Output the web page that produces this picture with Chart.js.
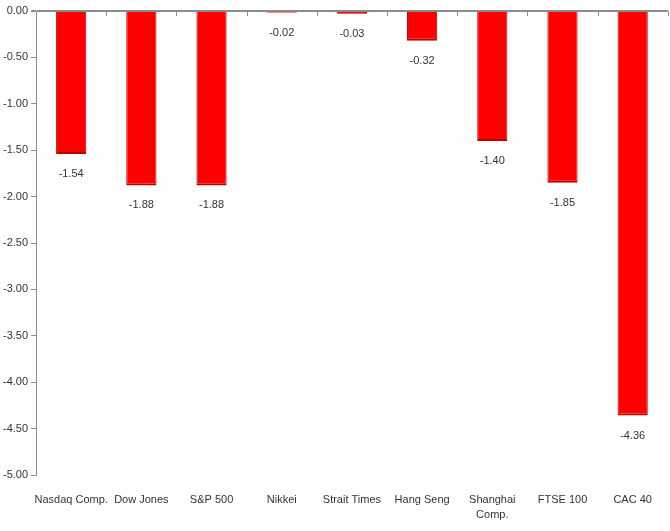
<!DOCTYPE html>
<html>
<head>
<meta charset="utf-8">
<script src="https://cdn.jsdelivr.net/npm/chart.js@4/dist/chart.umd.min.js"></script>
<style>
  html, body { margin: 0; padding: 0; background: #fff; }
  #wrap { width: 670px; height: 531px; }
</style>
</head>
<body>
<div id="wrap"><canvas id="myChart"></canvas></div>
<script>
'use strict';

let categories = ['Nasdaq Comp.', 'Dow Jones', 'S&P 500', 'Nikkei', 'Strait Times', 'Hang Seng', ['Shanghai', 'Comp.'], 'FTSE 100', 'CAC 40'];
let changes = [-1.54, -1.88, -1.88, -0.02, -0.03, -0.32, -1.40, -1.85, -4.36];
let yMin = -5;
let yMax = 0;
let yStep = 0.5;

let fontName = '"Liberation Sans Narrow", "Liberation Sans", Arial, sans-serif';
let fontSize = 11;
let axisGray = '#8c8c8c';

// tick marks under the zero line, between categories
let topTicks = {
    id: 'topTicks',
    afterDraw(chart) {
        let x = chart.scales.x;
        let y = chart.scales.y;
        let ctx = chart.ctx;
        let top = y.getPixelForValue(0);
        ctx.save();
        ctx.strokeStyle = axisGray;
        ctx.lineWidth = 1;
        for (let i = 1; i <= categories.length; i++) {
            let px;
            if (i < categories.length) {
                px = (x.getPixelForValue(i - 1) + x.getPixelForValue(i)) / 2;
            } else {
                px = x.right;
            }
            ctx.beginPath();
            ctx.moveTo(Math.round(px) + 0.5, top);
            ctx.lineTo(Math.round(px) + 0.5, top + 5);
            ctx.stroke();
        }
        ctx.restore();
    }
};

// value labels below each bar
let valueLabels = {
    id: 'valueLabels',
    afterDatasetsDraw(chart) {
        let ctx = chart.ctx;
        let meta = chart.getDatasetMeta(0);
        ctx.save();
        ctx.font = fontSize + 'px ' + fontName;
        ctx.fillStyle = '#333';
        ctx.textAlign = 'center';
        ctx.textBaseline = 'middle';
        meta.data.forEach(function (bar, i) {
            ctx.fillText(changes[i].toFixed(2), bar.x, bar.y + 20);
        });
        ctx.restore();
    }
};

function barFill(context) {
    let chart = context.chart;
    let el = context.element;
    if (!chart.chartArea || !el || el.width === undefined) return '#ff0000';
    let half = el.width / 2;
    let g = chart.ctx.createLinearGradient(el.x - half, 0, el.x + half, 0);
    g.addColorStop(0, '#e60000');
    g.addColorStop(0.12, '#ff0000');
    g.addColorStop(0.88, '#ff0000');
    g.addColorStop(1, '#e00000');
    return g;
}

let ctx = document.getElementById('myChart').getContext('2d');
let chart = new Chart(ctx, {
    type: 'bar',
    data: {
        labels: categories,
        datasets: [{
            data: changes,
            backgroundColor: barFill,
            borderColor: '#c00000',
            borderWidth: { left: 1, right: 1, bottom: 2, top: 0 },
            borderSkipped: 'start',
            barPercentage: 0.43,
            categoryPercentage: 1.0
        }]
    },
    options: {
        responsive: true,
        maintainAspectRatio: false,
        animation: false,
        layout: { padding: { top: 11, right: 1, left: 0, bottom: 0 } },
        plugins: {
            legend: { display: false },
            tooltip: { enabled: false }
        },
        scales: {
            x: {
                position: 'bottom',
                border: { display: false },
                grid: { display: false, drawTicks: false },
                ticks: {
                    color: '#333',
                    font: { family: fontName, size: fontSize, lineHeight: 1.35 },
                    padding: 18,
                    maxRotation: 0,
                    autoSkip: false
                },
                afterFit: function (scale) { scale.height = 56; }
            },
            y: {
                min: yMin,
                max: yMax,
                border: { display: true, color: axisGray, width: 1 },
                grid: {
                    drawOnChartArea: true,
                    color: function (c) { return c.tick && c.tick.value === 0 ? axisGray : 'transparent'; },
                    lineWidth: function (c) { return c.tick && c.tick.value === 0 ? 2 : 1; },
                    tickColor: axisGray,
                    tickLength: 5
                },
                ticks: {
                    stepSize: yStep,
                    color: '#333',
                    font: { family: fontName, size: fontSize },
                    padding: 3,
                    callback: function (v) { return Number(v).toFixed(2); }
                }
            }
        }
    },
    plugins: [topTicks, valueLabels]
});
</script>
</body>
</html>
